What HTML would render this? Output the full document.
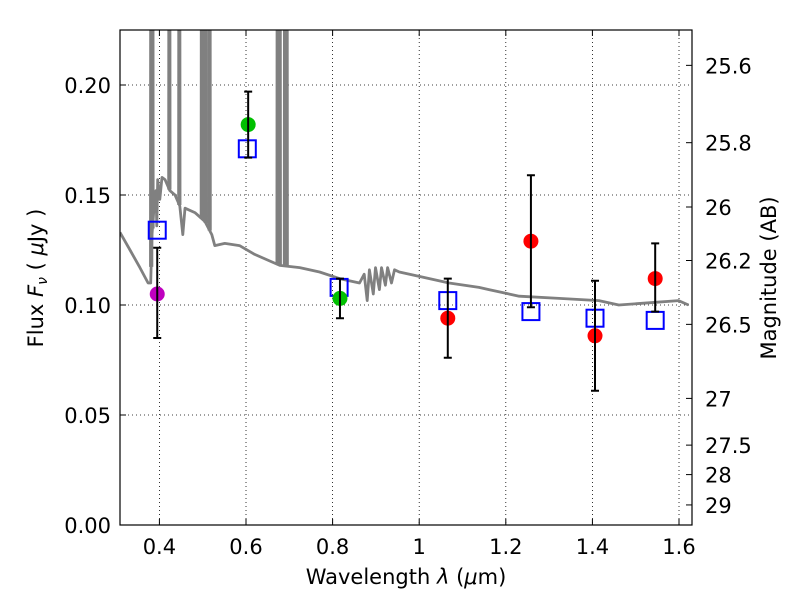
<!DOCTYPE html>
<html><head><meta charset="utf-8"><style>
body{margin:0;background:#fff}
svg text{font-family:"DejaVu Sans","Liberation Sans",sans-serif;font-size:21px;fill:#000}
</style></head><body>
<svg id="chart" width="800" height="600">
<g id="grid"></g>
<g id="clipg" clip-path="url(#pc)"></g>
<defs><clipPath id="pc"><rect x="120" y="30" width="572" height="495"/></clipPath></defs>
<g id="marks"></g>
<rect x="120" y="30" width="572" height="495" fill="none" stroke="#000" stroke-width="1.2"/>
<g id="axes"></g>
<text x="406" y="584" text-anchor="middle">Wavelength  <tspan font-style="italic">λ</tspan> (<tspan font-style="italic">μ</tspan>m)</text>
<text transform="translate(43,278) rotate(-90)" text-anchor="middle">Flux  <tspan font-style="italic">F</tspan><tspan font-style="italic" font-size="14" dy="4">ν</tspan><tspan dy="-4">  ( </tspan><tspan font-style="italic">μ</tspan>Jy )</text>
<text transform="translate(776,278) rotate(-90)" text-anchor="middle">Magnitude (AB)</text>
</svg>
<script>
const specWave=[0.309,0.332,0.355,0.374,0.380,0.383,0.387,0.392,0.394,0.396,0.401,0.406,0.413,0.424,0.436,0.447,0.454,0.459,0.482,0.505,0.521,0.528,0.551,0.585,0.620,0.655,0.678,0.724,0.770,0.816,0.862,0.873,0.880,0.885,0.894,0.899,0.908,0.913,0.922,0.927,0.936,0.943,0.954,1.000,1.069,1.138,1.161,1.231,1.323,1.415,1.461,1.530,1.599,1.622];
const specFlux=[0.133,0.125,0.117,0.110,0.110,0.132,0.143,0.152,0.136,0.157,0.148,0.158,0.157,0.152,0.150,0.145,0.132,0.144,0.142,0.138,0.132,0.127,0.128,0.127,0.123,0.120,0.118,0.117,0.115,0.112,0.110,0.114,0.102,0.116,0.105,0.117,0.107,0.117,0.109,0.117,0.110,0.116,0.115,0.113,0.110,0.108,0.107,0.104,0.103,0.102,0.100,0.101,0.102,0.100];
const lineWave=[0.381,0.384,0.423,0.446,0.498,0.501,0.507,0.516,0.673,0.678,0.690,0.694];
const ptWave=[0.395,0.605,0.817,1.066,1.258,1.406,1.545];
const ptFlux=[0.105,0.182,0.103,0.094,0.129,0.086,0.112];
const ptErrLo=[0.085,0.167,0.094,0.076,0.099,0.061,0.097];
const ptErrHi=[0.126,0.197,0.112,0.112,0.159,0.111,0.128];
const ptColor=['#bf00bf','#00c000','#00c000','#ff0000','#ff0000','#ff0000','#ff0000'];
const modelWave=[0.395,0.603,0.815,1.066,1.258,1.406,1.545];
const modelFlux=[0.134,0.171,0.108,0.102,0.097,0.094,0.093];
const xTicks=[0.4,0.6,0.8,1.0,1.2,1.4,1.6];
const xTickLabels=['0.4','0.6','0.8','1','1.2','1.4','1.6'];
const yTicks=[0,0.05,0.10,0.15,0.20];
const yTickLabels=['0.00','0.05','0.10','0.15','0.20'];
const magTicks=[25.6,25.8,26,26.2,26.5,27,27.5,28,29];
const magLabels=['25.6','25.8','26','26.2','26.5','27','27.5','28','29'];
const X0=120,X1=692,Y0=525,Y1=30,XMIN=0.309,XMAX=1.63,YMIN=0,YMAX=0.225;
const sx=v=>X0+(v-XMIN)/(XMAX-XMIN)*(X1-X0);
const sy=v=>Y0-(v-YMIN)/(YMAX-YMIN)*(Y0-Y1);
const NS='http://www.w3.org/2000/svg';
function mk(p,t,a){const e=document.createElementNS(NS,t);for(const k in a)e.setAttribute(k,a[k]);p.appendChild(e);return e;}
const grid=document.getElementById('grid'),axes=document.getElementById('axes'),clipg=document.getElementById('clipg'),marks=document.getElementById('marks');
xTicks.forEach((v,i)=>{const x=sx(v);
 let g=mk(grid,'line',{x1:x,x2:x,y1:Y1,y2:Y0,stroke:'#000','stroke-width':0.8,'stroke-dasharray':'1,3'});
 
 
 let t=mk(axes,'line',{x1:x,x2:x,y1:Y0,y2:Y0-6,stroke:'#000'});
 
 
 let t2=mk(axes,'line',{x1:x,x2:x,y1:Y1,y2:Y1+6,stroke:'#000'});
 
 
 let l=mk(axes,'text',{x:x,y:Y0+29,'text-anchor':'middle'});l.textContent=xTickLabels[i];
 
 
});
yTicks.forEach((v,i)=>{const y=sy(v);
 if(v>0){let g=mk(grid,'line',{x1:X0,x2:X1,y1:y,y2:y,stroke:'#000','stroke-width':0.8,'stroke-dasharray':'1,3'});
 
 }
 let t=mk(axes,'line',{x1:X0,x2:X0+6,y1:y,y2:y,stroke:'#000'});
 
 
 let l=mk(axes,'text',{x:X0-9,y:y+8,'text-anchor':'end'});l.textContent=yTickLabels[i];
 
 
});
magTicks.forEach((m,i)=>{const y=sy(Math.pow(10,(23.9-m)/2.5));
 let t=mk(axes,'line',{x1:X1,x2:X1-6,y1:y,y2:y,stroke:'#000'});
 
 
 let l=mk(axes,'text',{x:X1+13,y:y+8});l.textContent=magLabels[i];
 
 
});
let pts=specWave.map((w,i)=>sx(w).toFixed(1)+','+sy(specFlux[i]).toFixed(1)).join(' ');
let sp=mk(clipg,'polyline',{points:pts,fill:'none',stroke:'#808080','stroke-width':2.8,'stroke-linejoin':'round'});


function interp(w){for(let i=1;i<specWave.length;i++){if(w<=specWave[i]){const t=(w-specWave[i-1])/(specWave[i]-specWave[i-1]);return specFlux[i-1]+t*(specFlux[i]-specFlux[i-1]);}}return specFlux[specFlux.length-1];}
lineWave.forEach(w=>{const b=interp(w);
 let p=mk(clipg,'polyline',{points:`${sx(w-0.002)},${sy(b)} ${sx(w-0.0008)},${sy(0.5)} ${sx(w+0.0008)},${sy(0.5)} ${sx(w+0.002)},${sy(b)}`,fill:'none',stroke:'#808080','stroke-width':2.5});
 
 
});
modelWave.forEach((w,i)=>{const x=sx(w),y=sy(modelFlux[i]);
 let r=mk(marks,'rect',{x:x-8.5,y:y-8.5,width:17,height:17,fill:'none',stroke:'#0000ff','stroke-width':2});
 
 
});
ptWave.forEach((w,i)=>{const x=sx(w);
 let c=mk(marks,'circle',{cx:x,cy:sy(ptFlux[i]),r:7.5,fill:ptColor[i]});
 
 
 let e=mk(marks,'path',{d:`M${x},${sy(ptErrLo[i])}V${sy(ptErrHi[i])}M${x-4},${sy(ptErrLo[i])}H${x+4}M${x-4},${sy(ptErrHi[i])}H${x+4}`,stroke:'#000','stroke-width':2,fill:'none'});
 
 
});
</script>
</body></html>
